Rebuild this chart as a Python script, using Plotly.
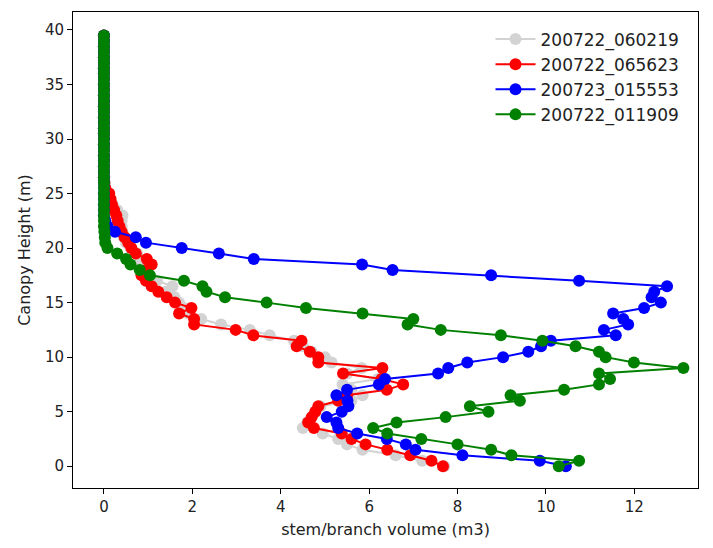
import plotly.graph_objects as go

heights = [i * 0.5 for i in range(80)]

gray_060219 = [7.70, 7.20, 6.60, 5.85, 5.50, 5.30, 4.95, 4.50, 4.60, 4.70,
               4.80, 4.90, 5.60, 5.85, 5.60, 5.40, 6.20, 5.50, 5.83, 5.15,
               5.00, 4.70, 4.50, 4.30, 3.75, 3.30, 2.65, 2.20, 1.90, 1.80,
               1.70, 1.60, 1.40, 1.55, 1.20, 1.00, 0.90, 0.85, 0.80, 0.75,
               0.60, 0.50, 0.45, 0.42, 0.40, 0.40, 0.42, 0.30, 0.20, 0.12,
               0.08, 0.03, 0.02, 0.01, 0.0, 0.0, 0.0, 0.0, 0.0, 0.0,
               0.0, 0.0, 0.0, 0.0, 0.0, 0.0, 0.0, 0.0, 0.0, 0.0,
               0.0, 0.0, 0.0, 0.0, 0.0, 0.0, 0.0, 0.0, 0.0, 0.0]

red_065623 = [7.67, 7.41, 6.93, 6.41, 5.92, 5.60, 5.38, 4.75, 4.62, 4.70,
              4.78, 4.85, 5.30, 5.50, 6.40, 6.77, 6.28, 5.41, 6.30, 4.85,
              4.85, 4.66, 4.36, 4.47, 3.38, 2.98, 2.04, 2.04, 1.70, 1.98,
              1.61, 1.42, 1.23, 1.08, 0.95, 0.85, 0.95, 1.08, 0.97, 0.72,
              0.62, 0.55, 0.47, 0.40, 0.35, 0.31, 0.28, 0.23, 0.18, 0.15,
              0.12, 0.03, 0.01, 0.0, 0.0, 0.0, 0.0, 0.0, 0.0, 0.0,
              0.0, 0.0, 0.0, 0.0, 0.0, 0.0, 0.0, 0.0, 0.0, 0.0,
              0.0, 0.0, 0.0, 0.0, 0.0, 0.0, 0.0, 0.0, 0.0, 0.0]

blue_015553 = [10.45, 9.86, 8.11, 7.05, 6.83, 6.40, 5.73, 5.30, 5.26, 5.04,
               5.38, 5.53, 5.51, 5.26, 5.50, 6.22, 6.36, 7.56, 7.79, 8.22,
               9.03, 9.60, 9.89, 10.11, 11.58, 11.31, 11.86, 11.75, 11.52, 12.22,
               12.60, 12.39, 12.45, 12.74, 10.75, 8.76, 6.53, 5.84, 3.39, 2.60,
               1.76, 0.95, 0.72, 0.25, 0.08, 0.03, 0.0, 0.0, 0.0, 0.0,
               0.0, 0.0, 0.0, 0.0, 0.0, 0.0, 0.0, 0.0, 0.0, 0.0,
               0.0, 0.0, 0.0, 0.0, 0.0, 0.0, 0.0, 0.0, 0.0, 0.0,
               0.0, 0.0, 0.0, 0.0, 0.0, 0.0, 0.0, 0.0, 0.0, 0.0]

green_011909 = [10.29, 10.75, 9.22, 8.76, 8.00, 7.18, 6.41, 6.09, 6.62, 7.73,
                8.70, 8.28, 9.41, 9.20, 10.41, 11.20, 11.45, 11.20, 13.11, 11.99,
                11.35, 11.20, 10.67, 9.92, 8.98, 7.62, 6.87, 7.00, 5.85, 4.57,
                3.68, 2.74, 2.32, 2.23, 1.81, 1.04, 0.81, 0.60, 0.50, 0.30,
                0.08, 0.03, 0.02, 0.01, 0.0, 0.0, 0.0, 0.0, 0.0, 0.0,
                0.0, 0.0, 0.0, 0.0, 0.0, 0.0, 0.0, 0.0, 0.0, 0.0,
                0.0, 0.0, 0.0, 0.0, 0.0, 0.0, 0.0, 0.0, 0.0, 0.0,
                0.0, 0.0, 0.0, 0.0, 0.0, 0.0, 0.0, 0.0, 0.0, 0.0]

series_names = ["200722_060219", "200722_065623", "200723_015553", "200722_011909"]
series_values = [gray_060219, red_065623, blue_015553, green_011909]
series_colors = ["#d3d3d3", "#ff0000", "#0000ff", "#008000"]

x_ticks = [0, 2, 4, 6, 8, 10, 12]
y_ticks = [0, 5, 10, 15, 20, 25, 30, 35, 40]

fig = go.Figure()
for name, vals, col in zip(series_names, series_values, series_colors):
    fig.add_trace(go.Scatter(
        x=vals, y=heights, name=name, mode="lines+markers",
        line=dict(color=col, width=2),
        marker=dict(color=col, size=12),
    ))

font_family = "DejaVu Sans"
fig.update_layout(
    width=713, height=548,
    margin=dict(l=73, r=15, t=12, b=60),
    paper_bgcolor="white", plot_bgcolor="white",
    font=dict(family=font_family, size=15, color="#222222"),
    showlegend=True,
    legend=dict(
        x=0.668, y=0.98, xanchor="left", yanchor="top",
        bgcolor="rgba(255,255,255,0)", borderwidth=0,
        font=dict(size=17, family=font_family, color="#222222"),
        itemwidth=40,
    ),
    xaxis=dict(
        range=[-0.7, 13.44], tickvals=x_ticks, ticktext=[str(t) for t in x_ticks],
        showgrid=False, zeroline=False, showline=True, linecolor="black",
        linewidth=1, mirror=True, ticks="outside", ticklen=5, tickcolor="black",
        title=dict(text="stem/branch volume (m3)", font=dict(size=16), standoff=8),
    ),
    yaxis=dict(
        range=[-2.0, 41.65], tickvals=y_ticks, ticktext=[str(t) for t in y_ticks],
        showgrid=False, zeroline=False, showline=True, linecolor="black",
        linewidth=1, mirror=True, ticks="outside", ticklen=5, tickcolor="black",
        title=dict(text="Canopy Height (m)", font=dict(size=16), standoff=10),
    ),
)

fig.write_html("out.html")
